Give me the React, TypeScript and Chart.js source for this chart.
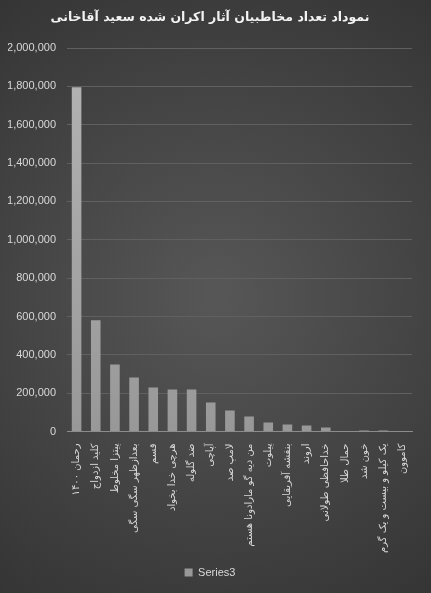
import React, { useEffect, useRef } from "react";
import { Chart, registerables } from "chart.js";

Chart.register(...registerables);

const categories = [
  "رحمان ۱۴۰۰",
  "کلید ازدواج",
  "پیتزا مخلوط",
  "بعدازظهر سگی سگی",
  "قسم",
  "هرچی خدا بخواد",
  "ضد گلوله",
  "آپاچی",
  "لامپ صد",
  "من دیه گو مارادونا هستم",
  "پیلوت",
  "بنفشه آفریقایی",
  "اروند",
  "خداحافظی طولانی",
  "حمال طلا",
  "خون شد",
  "یک کیلو و بیست و یک گرم",
  "کاموون",
];

const series3 = [
  1795000, 580000, 350000, 282000, 230000, 219000, 219000, 151000, 110000,
  78000, 47000, 37000, 31000, 21000, 0, 5000, 5000, 0,
];

const seriesName = "Series3";
const titleText = "نموداد تعداد مخاطبیان آثار اکران شده سعید آقاخانی";
const yMax = 2000000;
const yStep = 200000;

const FONT = "'DejaVu Sans', 'Liberation Sans', sans-serif";
const NUMFONT = "'Liberation Sans', Arial, sans-serif";

const bgPlugin = {
  id: "bgPlugin",
  beforeDraw(chart: any) {
    const { ctx, width, height } = chart;
    ctx.save();
    const g = ctx.createRadialGradient(
      width * 0.5, height * 0.5, 10,
      width * 0.5, height * 0.5, Math.max(width, height) * 0.65
    );
    g.addColorStop(0, "#565656");
    g.addColorStop(1, "#333333");
    ctx.fillStyle = g;
    ctx.fillRect(0, 0, width, height);
    ctx.restore();
  },
};

export default function App() {
  const ref = useRef<HTMLCanvasElement | null>(null);

  useEffect(() => {
    document.body.style.margin = "0";
    const canvas = ref.current;
    if (!canvas) return;
    const chart = new Chart(canvas, {
      type: "bar",
      data: {
        labels: categories,
        datasets: [
          {
            label: seriesName,
            data: series3,
            backgroundColor: (ctx: any) => {
              const area = ctx.chart.chartArea;
              if (!area) return "#a6a6a6";
              const g = ctx.chart.ctx.createLinearGradient(0, area.top, 0, area.bottom);
              g.addColorStop(0, "#b4b4b4");
              g.addColorStop(1, "#989898");
              return g;
            },
            borderWidth: 0,
            barPercentage: 0.5,
            categoryPercentage: 1,
          },
        ],
      },
      options: {
        animation: false,
        responsive: true,
        maintainAspectRatio: false,
        layout: { padding: { left: 8, right: 19, top: 0, bottom: 5 } },
        plugins: {
          title: {
            display: true,
            text: titleText,
            color: "#f2f2f2",
            font: { family: FONT, size: 12.5, weight: "bold" },
            padding: { top: 10, bottom: 23 },
          },
          legend: {
            display: true,
            position: "bottom",
            labels: {
              color: "#d9d9d9",
              font: { family: NUMFONT, size: 11 },
              boxWidth: 8,
              boxHeight: 8,
              padding: 10,
            },
          },
          tooltip: { enabled: false },
        },
        scales: {
          x: {
            grid: { display: false },
            border: { display: true, color: "#8c8c8c", width: 1 },
            ticks: {
              color: "#d9d9d9",
              font: { family: FONT, size: 10 },
              minRotation: 90,
              maxRotation: 90,
              autoSkip: false,
              padding: 4,
            },
          },
          y: {
            min: 0,
            max: yMax,
            border: { display: false },
            grid: { color: "#606060", lineWidth: 1, drawTicks: false },
            afterFit: (scale: any) => {
              scale.width = 59;
            },
            ticks: {
              stepSize: yStep,
              color: "#d9d9d9",
              font: { family: NUMFONT, size: 11 },
              padding: 11,
              callback: (v: any) => Number(v).toLocaleString("en-US"),
            },
          },
        },
      },
      plugins: [bgPlugin],
    } as any);
    return () => chart.destroy();
  }, []);

  return (
    <div style={{ position: "relative", width: 431, height: 593 }}>
      <canvas ref={ref} />
    </div>
  );
}
